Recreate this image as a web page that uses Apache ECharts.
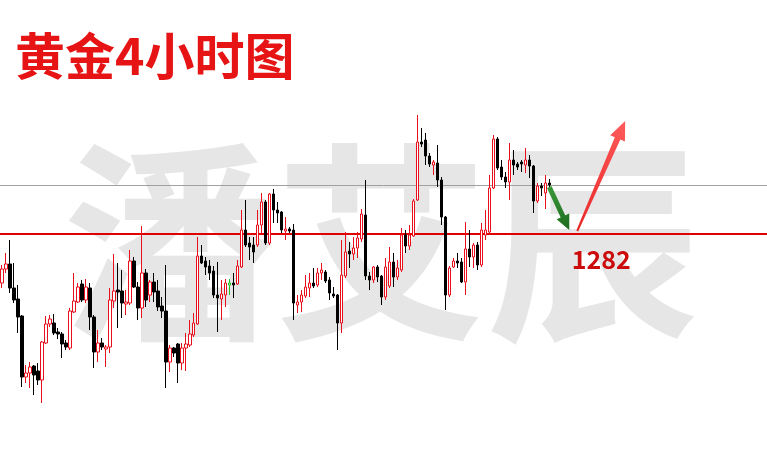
<!DOCTYPE html>
<html>
<head>
<meta charset="utf-8">
<script src="https://cdn.jsdelivr.net/npm/echarts@6/dist/echarts.min.js"></script>
<style>
html,body{margin:0;padding:0;background:#fff;}
#main{width:767px;height:466px;}
</style>
</head>
<body>
<div id="main"></div>
<script>
// 4-hour gold candles: [open, close, low, high]
const candles = [
[1272.2,1275.0,1271.2,1275.8],[1275.0,1276.0,1274.2,1278.2],[1276.0,1271.2,1270.2,1280.8],[1271.2,1268.8,1268.2,1276.2],
[1269.0,1265.4,1262.2,1271.8],[1265.6,1253.4,1251.4,1265.8],[1253.4,1254.2,1252.2,1255.8],[1254.2,1255.4,1251.2,1256.4],
[1255.6,1253.8,1249.8,1255.8],[1254.6,1252.8,1251.8,1256.2],[1252.8,1260.4,1248.2,1260.6],[1260.2,1264.0,1260.0,1265.6],
[1264.0,1265.0,1263.4,1265.8],[1264.2,1262.2,1261.8,1266.0],[1262.4,1262.0,1261.0,1263.2],[1262.0,1260.0,1257.2,1262.4],
[1260.2,1259.4,1258.8,1260.8],[1259.2,1266.6,1258.8,1267.2],[1266.4,1268.6,1266.2,1274.2],[1268.4,1271.4,1268.2,1272.2],
[1272.0,1268.8,1268.4,1272.8],[1268.8,1271.4,1268.2,1273.0],[1271.2,1265.4,1262.8,1272.2],[1265.4,1258.4,1255.2,1265.8],
[1258.4,1260.2,1256.4,1262.8],[1260.2,1259.4,1258.8,1261.2],[1259.0,1259.4,1255.4,1259.8],[1259.4,1268.8,1258.2,1271.2],
[1268.6,1270.6,1267.2,1278.0],[1270.8,1270.4,1263.2,1276.2],[1270.6,1268.2,1265.2,1274.8],[1268.0,1268.4,1265.8,1270.8],
[1268.2,1276.6,1267.8,1278.8],[1276.6,1271.4,1271.2,1277.4],[1271.4,1267.2,1264.8,1272.4],[1267.2,1274.2,1265.2,1283.6],
[1274.2,1268.8,1267.4,1275.0],[1269.8,1272.4,1268.4,1272.8],[1272.4,1270.4,1268.4,1274.2],[1270.6,1267.4,1266.6,1272.8],
[1267.6,1266.6,1265.2,1269.4],[1266.6,1256.4,1251.2,1275.8],[1256.4,1259.2,1254.4,1259.8],[1259.2,1258.2,1257.4,1259.4],
[1260.0,1256.2,1252.2,1260.2],[1256.2,1259.2,1254.8,1260.2],[1259.2,1260.0,1254.6,1262.2],[1259.8,1262.0,1259.4,1264.8],
[1261.8,1264.2,1261.4,1266.2],[1264.0,1277.6,1263.8,1281.4],[1277.6,1276.2,1276.0,1279.8],[1276.6,1275.4,1273.8,1277.4],
[1275.6,1274.2,1272.8,1276.8],[1274.6,1269.8,1269.2,1275.6],[1269.8,1269.2,1262.4,1276.4],[1269.0,1270.0,1264.8,1272.8],
[1269.8,1272.2,1267.4,1273.0],[1271.8,1272.2,1269.8,1273.0],[1272.2,1271.8,1269.2,1274.2],[1272.0,1275.6,1271.8,1276.8],
[1275.4,1282.8,1275.2,1286.8],[1282.8,1279.8,1279.4,1288.8],[1280.2,1279.4,1276.8,1281.4],[1279.8,1278.4,1276.2,1281.4],
[1279.8,1283.8,1279.4,1286.8],[1283.8,1288.4,1282.2,1290.2],[1288.4,1280.2,1279.8,1288.8],[1280.2,1290.0,1279.8,1290.2],
[1290.0,1286.8,1284.2,1291.0],[1286.8,1286.2,1284.2,1288.4],[1286.4,1282.8,1282.2,1286.6],[1282.6,1283.0,1280.8,1285.4],
[1283.0,1282.6,1282.2,1283.4],[1282.8,1268.2,1264.8,1284.0],[1267.8,1268.4,1266.2,1269.8],[1268.4,1269.8,1266.4,1270.8],
[1269.6,1271.4,1269.2,1273.8],[1271.2,1272.2,1269.4,1274.2],[1272.2,1271.6,1271.2,1275.2],[1271.8,1274.2,1271.4,1275.2],
[1274.2,1274.8,1272.8,1276.2],[1274.4,1272.6,1272.2,1274.8],[1272.8,1270.2,1268.8,1273.4],[1270.0,1269.6,1269.2,1271.4],
[1269.8,1264.2,1258.8,1270.0],[1264.2,1273.8,1262.2,1280.8],[1273.6,1278.4,1273.2,1282.4],[1278.6,1278.0,1275.2,1280.4],
[1278.0,1279.2,1276.8,1281.4],[1279.2,1281.2,1277.2,1282.4],[1281.0,1286.0,1280.4,1287.0],[1285.8,1273.6,1272.8,1292.8],
[1273.6,1272.8,1270.8,1274.4],[1272.8,1275.4,1272.2,1275.6],[1275.4,1273.4,1272.4,1275.8],[1273.6,1269.4,1267.8,1273.8],
[1269.4,1275.4,1268.8,1277.2],[1271.6,1276.4,1271.2,1279.4],[1276.4,1273.4,1271.4,1278.2],[1273.4,1275.2,1272.8,1276.8],
[1274.8,1281.8,1274.4,1283.2],[1281.8,1279.6,1278.2,1282.8],[1279.6,1281.8,1278.8,1283.8],[1281.6,1288.6,1281.4,1289.0],
[1288.8,1300.4,1288.6,1305.8],[1300.4,1300.0,1299.4,1303.2],[1300.8,1297.6,1295.8,1302.2],[1297.6,1296.0,1295.4,1298.2],
[1295.8,1296.4,1293.8,1296.8],[1296.2,1292.8,1291.4,1299.8],[1292.8,1285.4,1283.8,1293.4],[1285.4,1269.8,1266.8,1285.6],
[1269.8,1275.2,1269.4,1275.6],[1275.4,1276.6,1275.2,1277.2],[1276.6,1276.2,1275.2,1278.2],[1276.4,1272.4,1272.2,1277.2],
[1272.4,1279.0,1269.8,1284.4],[1279.0,1277.4,1275.4,1282.8],[1277.4,1279.8,1275.2,1280.2],[1279.8,1275.8,1274.8,1280.4],
[1275.8,1282.8,1275.4,1284.2],[1281.8,1282.8,1280.8,1286.8],[1282.4,1291.2,1282.2,1293.8],[1291.2,1301.0,1291.0,1301.8],
[1301.0,1295.2,1294.8,1301.4],[1295.4,1293.4,1292.8,1296.8],[1293.4,1292.4,1291.2,1294.4],[1292.4,1296.8,1288.8,1300.2],
[1296.8,1295.8,1293.8,1298.8],[1296.0,1295.4,1294.8,1296.4],[1296.4,1296.0,1294.4,1296.8],[1295.8,1296.8,1294.2,1299.2],
[1296.8,1295.6,1293.2,1297.8],[1295.6,1288.6,1286.2,1295.8],[1288.6,1291.6,1288.2,1292.2],[1291.6,1291.2,1289.6,1292.2],
[1290.2,1292.2,1287.0,1293.8],[1292.2,1291.8,1291.4,1293.0]
];
const greenCandles = [57];          // doji drawn in green
const slotCount = 192;              // candle slots across the window (empty on the right)
const categories = Array.from({length: slotCount}, (_, i) => 'K' + i);
const supportLevel = 1282;          // red line
const greyLevel = 1291.8;           // grey line
const yMin = 1235.6, yMax = 1328.8;
const labelText = '1282';
const labelAt = [150, 1276.9];
const greenArrow = [[136.75, 1291.4], [141.75, 1282.8]];
const redArrow = [[143.5, 1282.6], [156.25, 1304.6]];

const RED = '#e8101c';
const seriesData = candles.map((c, i) => greenCandles.includes(i)
  ? {value: c, itemStyle: {color: '#fff', borderColor: '#1ec21e', color0: '#1ec21e', borderColor0: '#1ec21e'}}
  : c);

const chart = echarts.init(document.getElementById('main'), null, {renderer: 'canvas'});
chart.setOption({
  animation: false,
  backgroundColor: '#ffffff',
  grid: {left: -1, right: 0, top: 0, bottom: 0, containLabel: false},
  xAxis: {type: 'category', data: categories, boundaryGap: true, show: false},
  yAxis: {type: 'value', min: yMin, max: yMax, show: false, splitLine: {show: false}},
  series: [{
    type: 'candlestick',
    data: seriesData,
    barWidth: 3,
    itemStyle: {color: '#ffffff', color0: '#000000', borderColor: RED, borderColor0: '#000000', borderWidth: 1},
    markLine: {
      silent: true, symbol: 'none', animation: false,
      label: {show: false},
      data: [
        {yAxis: greyLevel, lineStyle: {color: '#a0a0a0', width: 1, type: 'solid'}},
        {yAxis: supportLevel, lineStyle: {color: '#e00000', width: 2, type: 'solid'}}
      ]
    },
    z: 5
  }]
});

function toPx(p) { return chart.convertToPixel({seriesIndex: 0}, p); }
function arrowPoly(a, b, w0, w1, headW, headL) {
  const p0 = toPx(a), p1 = toPx(b);
  const dx = p1[0] - p0[0], dy = p1[1] - p0[1];
  const len = Math.hypot(dx, dy);
  const ux = dx / len, uy = dy / len, nx = -uy, ny = ux;
  const bx = p1[0] - ux * headL, by = p1[1] - uy * headL;
  return [
    [p0[0] + nx * w0 / 2, p0[1] + ny * w0 / 2],
    [bx + nx * w1 / 2, by + ny * w1 / 2],
    [bx + nx * headW / 2, by + ny * headW / 2],
    [p1[0], p1[1]],
    [bx - nx * headW / 2, by - ny * headW / 2],
    [bx - nx * w1 / 2, by - ny * w1 / 2],
    [p0[0] - nx * w0 / 2, p0[1] - ny * w0 / 2]
  ];
}
const lp = toPx(labelAt);
chart.setOption({
  graphic: [
    {type: 'text', z: -10, silent: true,
     style: {x: 381, y: 243, text: '潘艾辰', fill: '#e6e6e6', font: 'bold 212px "Noto Sans CJK SC"', align: 'center', verticalAlign: 'middle'}},
    {type: 'text', z: 50, silent: true,
     style: {x: 15, y: 56, text: '黄金4小时图', fill: '#e61414', font: 'bold 50px "Noto Sans CJK SC"', align: 'left', verticalAlign: 'middle'}},
    {type: 'polygon', z: 60, silent: true,
     shape: {points: arrowPoly(greenArrow[0], greenArrow[1], 5, 5, 14, 15)},
     style: {fill: new echarts.graphic.LinearGradient(0, 0, 1, 1, [{offset: 0, color: '#3a9a3a'}, {offset: 1, color: '#1d6b1d'}])}},
    {type: 'polygon', z: 60, silent: true,
     shape: {points: arrowPoly(redArrow[0], redArrow[1], 2, 6, 16, 19)},
     style: {fill: new echarts.graphic.LinearGradient(0, 1, 1, 0, [{offset: 0, color: '#e82828'}, {offset: 1, color: '#ff5a5a'}])}},
    {type: 'text', z: 60, silent: true,
     style: {x: lp[0], y: lp[1], text: labelText, fill: '#cc0c0c', font: 'bold 25px "Noto Sans CJK SC"', align: 'center', verticalAlign: 'middle'}}
  ]
});
</script>
</body>
</html>
